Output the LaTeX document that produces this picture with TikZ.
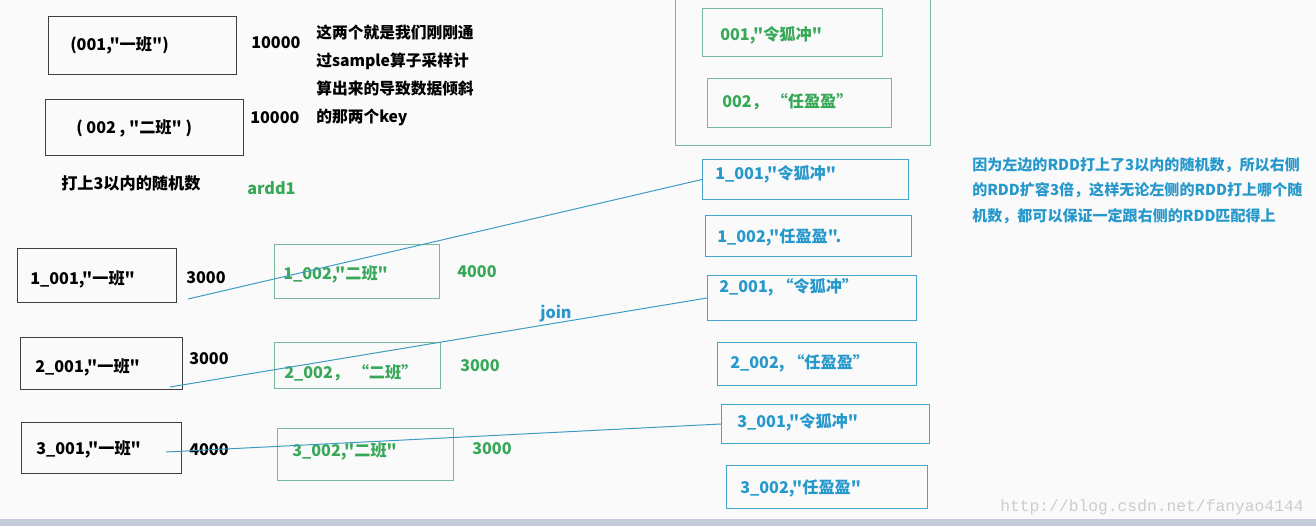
\documentclass[tikz,border=0pt]{standalone}
\usepackage{fontspec}
\setmainfont{Noto Sans CJK SC}[Ligatures=TeXOff]
\newfontfamily\urlfont{Liberation Mono}
\definecolor{inkgreen}{RGB}{55,168,88}
\definecolor{boxgreen}{RGB}{120,185,155}
\definecolor{inkblue}{RGB}{38,152,204}
\definecolor{boxblue}{RGB}{70,165,205}
\definecolor{joinline}{RGB}{60,155,195}
\definecolor{paper}{RGB}{250,250,250}
\definecolor{barcol}{RGB}{196,202,218}
\begin{document}
\begin{tikzpicture}[x=0.25mm,y=-0.25mm,
  font=\fontsize{11.5}{14}\selectfont\bfseries,
  box/.style 2 args={draw, anchor=north west, inner sep=0pt,
    minimum width=#1*0.25mm, minimum height=#2*0.25mm},
  blackbox/.style={draw=black!75, line width=0.9pt},
  greenbox/.style={draw=boxgreen, line width=0.6pt},
  bluebox/.style={draw=boxblue, line width=0.7pt},
  txt/.style={anchor=west, inner sep=0pt},
  greentxt/.style={txt, text=inkgreen},
  bluetxt/.style={txt, text=inkblue},
  joinedge/.style={draw=joinline, line width=0.7pt}
]
\fill[paper] (0,0) rectangle (1316,526);
\fill[barcol] (0,519) rectangle (1316,526);
\useasboundingbox (0,0) rectangle (1316,526);

\node[box={188}{58}, blackbox] (k1) at (48,16) {};
\node[txt] (k1t) at (70,45) {(001,"一班")};
\node[box={198}{56}, blackbox] (k2) at (45,99) {};
\node[txt] (k2t) at (76,128) {( 002 , "二班" )};
\node[txt] (k1n) at (251,43) {10000};
\node[txt] (k2n) at (250,118) {10000};
\node[txt, align=left, font=\fontsize{11.2}{20}\selectfont\bfseries] (note) at (316,75.5)
  {这两个就是我们刚刚通\\过sample算子采样计\\算出来的导致数据倾斜\\的那两个key};
\node[txt] (rand) at (61,183) {打上3以内的随机数};
\node[greentxt] (ardd) at (247,188) {ardd1};

\node[box={159}{54}, blackbox] (l1) at (17,248) {};
\node[txt] (l1t) at (30,279) {1\_001,"一班"};
\node[box={162}{52}, blackbox] (l2) at (20,337) {};
\node[txt] (l2t) at (35,367) {2\_001,"一班"};
\node[box={160}{51}, blackbox] (l3) at (21,422) {};
\node[txt] (l3t) at (36,449) {3\_001,"一班"};
\node[txt] (l1n) at (186,278) {3000};
\node[txt] (l2n) at (189,359) {3000};
\node[txt] (l3n) at (189,450) {4000};

\node[box={165}{54}, greenbox] (m1) at (274,244) {};
\node[greentxt] (m1t) at (283,274) {1\_002,"二班"};
\node[box={166}{46}, greenbox] (m2) at (274,342) {};
\node[greentxt] (m2t) at (284,373) {2\_002， “二班”};
\node[box={176}{52}, greenbox] (m3) at (277,428) {};
\node[greentxt] (m3t) at (292,451) {3\_002,"二班"};
\node[greentxt] (m1n) at (457,272) {4000};
\node[greentxt] (m2n) at (460,366) {3000};
\node[greentxt] (m3n) at (472,449) {3000};
\node[bluetxt] (join) at (540,314) {join};

\node[box={255}{155}, greenbox] (r0) at (675,-10) {};
\node[box={180}{48}, greenbox] (r1) at (702,8) {};
\node[greentxt] (r1t) at (720,35) {001,"令狐冲"};
\node[box={184}{49}, greenbox] (r2) at (707,78) {};
\node[greentxt] (r2t) at (722,102) {002， “任盈盈”};

\node[box={206}{40}, bluebox] (d1) at (702,159) {};
\node[bluetxt] (d1t) at (715,174) {1\_001,"令狐冲"};
\node[box={206}{41}, bluebox] (d2) at (705,215) {};
\node[bluetxt] (d2t) at (717,237) {1\_002,"任盈盈".};
\node[box={209}{45}, bluebox] (d3) at (707,275) {};
\node[bluetxt] (d3t) at (719,287) {2\_001, “令狐冲”};
\node[box={199}{43}, bluebox] (d4) at (717,342) {};
\node[bluetxt] (d4t) at (730,363) {2\_002, “任盈盈”};
\node[box={208}{39}, bluebox] (d5) at (721,404) {};
\node[bluetxt] (d5t) at (737,422) {3\_001,"令狐冲"};
\node[box={201}{43}, bluebox] (d6) at (726,465) {};
\node[bluetxt] (d6t) at (740,488) {3\_002,"任盈盈"};

\node[bluetxt, align=left, font=\fontsize{10.7}{18}\selectfont\bfseries] (why) at (972,190.5)
  {因为左边的RDD打上了3以内的随机数，所以右侧\\的RDD扩容3倍，这样无论左侧的RDD打上哪个随\\机数，都可以保证一定跟右侧的RDD匹配得上};

\coordinate (s1) at (188,299);
\coordinate (s2) at (170,387);
\coordinate (s3) at (166,452);
\draw[joinedge] (s1) -- (d1.west);
\draw[joinedge] (s2) -- (d3.west);
\draw[joinedge] (s3) -- (d5.west);

\node[txt, font=\urlfont\fontsize{11.6}{14}\selectfont, text=black!20] (mark) at (1000,507)
  {http://blog.csdn.net/fanyao4144};
\end{tikzpicture}
\end{document}
